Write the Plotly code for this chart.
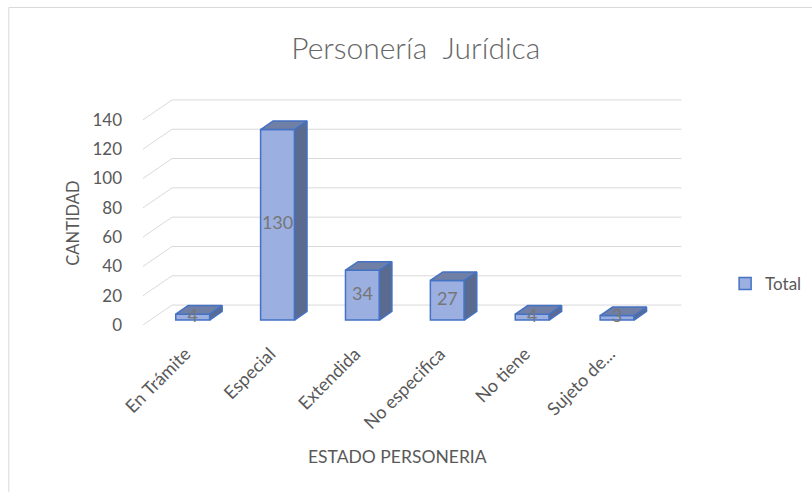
import plotly.graph_objects as go

# --- data -------------------------------------------------------------
categorias = ["En Trámite", "Especial", "Extendida", "No especifica", "No tiene", "Sujeto de..."]
total = [4, 130, 34, 27, 4, 3]
ticks_y = [0, 20, 40, 60, 80, 100, 120, 140]

# --- oblique 3-D box geometry (in data units) -------------------------
DX = 0.342      # horizontal depth of the box, in category units
DY = 13.6       # vertical depth of the box, in value units
F0 = 0.25       # depth of the bar front face (fraction of box depth)
DEPTH = 0.43    # bar depth (fraction of box depth)
W = 0.40        # bar width, in category units

FONT = "Lato"
TXT = "#595959"
GRID = "#d9d9d9"
FRONT = "#9cafe1"
SIDE = "#5b6a8f"
TOP = "#6f7fa6"
EDGE = "#4472c4"

idx = list(range(len(categorias)))
x_front = [i + F0 * DX for i in idx]
base = F0 * DY
ddx, ddy = DEPTH * DX, DEPTH * DY

fig = go.Figure()

# front faces of the columns
fig.add_trace(go.Bar(
    x=x_front, y=total, base=base, width=W, name="Total",
    marker=dict(color=FRONT, line=dict(color=EDGE, width=1.5)),
    hoverinfo="skip",
))

# side and top faces of each column
for xc, v in zip(x_front, total):
    xl, xr = xc - W / 2, xc + W / 2
    yt = base + v
    fig.add_trace(go.Scatter(
        x=[xr, xr + ddx, xr + ddx, xr, xr],
        y=[base, base + ddy, yt + ddy, yt, base],
        mode="lines", fill="toself", fillcolor=SIDE,
        line=dict(color=EDGE, width=1.5), showlegend=False, hoverinfo="skip",
    ))
    fig.add_trace(go.Scatter(
        x=[xl, xr, xr + ddx, xl + ddx, xl],
        y=[yt, yt, yt + ddy, yt + ddy, yt],
        mode="lines", fill="toself", fillcolor=TOP,
        line=dict(color=EDGE, width=1.5), showlegend=False, hoverinfo="skip",
    ))

# value labels centred on the front faces
fig.add_trace(go.Scatter(
    x=x_front, y=[base + v / 2 for v in total], text=[str(v) for v in total],
    mode="text", textfont=dict(family=FONT, size=18, color="#767676"),
    showlegend=False, hoverinfo="skip", cliponaxis=False,
))

# back-wall gridlines with their oblique connectors to the value axis
x_left, x_right = -0.5, len(categorias) - 0.5
shapes = []
for v in ticks_y:
    shapes.append(dict(type="line", xref="x", yref="y", layer="below",
                       x0=x_left, y0=v, x1=x_left + DX, y1=v + DY,
                       line=dict(color=GRID, width=1)))
    shapes.append(dict(type="line", xref="x", yref="y", layer="below",
                       x0=x_left + DX, y0=v + DY, x1=x_right + DX, y1=v + DY,
                       line=dict(color=GRID, width=1)))

# chart border
shapes.append(dict(type="rect", xref="paper", yref="paper", layer="below",
                   x0=-0.2485, y0=-0.80, x1=1.30, y1=1.3925,
                   line=dict(color=GRID, width=1), fillcolor="rgba(0,0,0,0)"))

fig.update_layout(
    width=812, height=492,
    margin=dict(l=143, r=129, t=97, b=167, autoexpand=False),
    paper_bgcolor="white", plot_bgcolor="white",
    font=dict(family=FONT, size=16, color=TXT),
    title=dict(text="Personería\u00a0 Jurídica", x=0.512, xref="container",
               y=0.902, yref="container", xanchor="center", yanchor="middle",
               font=dict(family=FONT, size=30, color="#666666", weight=300)),
    shapes=shapes,
    showlegend=True,
    legend=dict(x=1.078, y=0.18, xanchor="left", yanchor="middle",
                itemwidth=30, font=dict(family=FONT, size=17, color=TXT),
                bgcolor="rgba(0,0,0,0)"),
    xaxis=dict(range=[x_left, x_right + DX + 0.02], tickmode="array",
               tickvals=idx, ticktext=categorias, tickangle=-45,
               showgrid=False, zeroline=False, showline=False, ticks="",
               ticklabelstandoff=14, tickfont=dict(family=FONT, size=18, color=TXT)),
    yaxis=dict(range=[0, 140 + DY + 2], tickmode="array", tickvals=ticks_y,
               showgrid=False, zeroline=False, showline=False, ticks="",
               ticklabelstandoff=20, tickfont=dict(family=FONT, size=17, color=TXT)),
    annotations=[
        dict(text="CANTIDAD", xref="paper", yref="paper", x=-0.13, y=0.448,
             textangle=-90, showarrow=False, xanchor="center", yanchor="middle",
             font=dict(family=FONT, size=16.5, color=TXT)),
        dict(text="ESTADO PERSONERIA", xref="paper", yref="paper", x=0.472, y=-0.576,
             showarrow=False, xanchor="center", yanchor="middle",
             font=dict(family=FONT, size=17.5, color=TXT)),
    ],
)

fig.write_html("out.html")
